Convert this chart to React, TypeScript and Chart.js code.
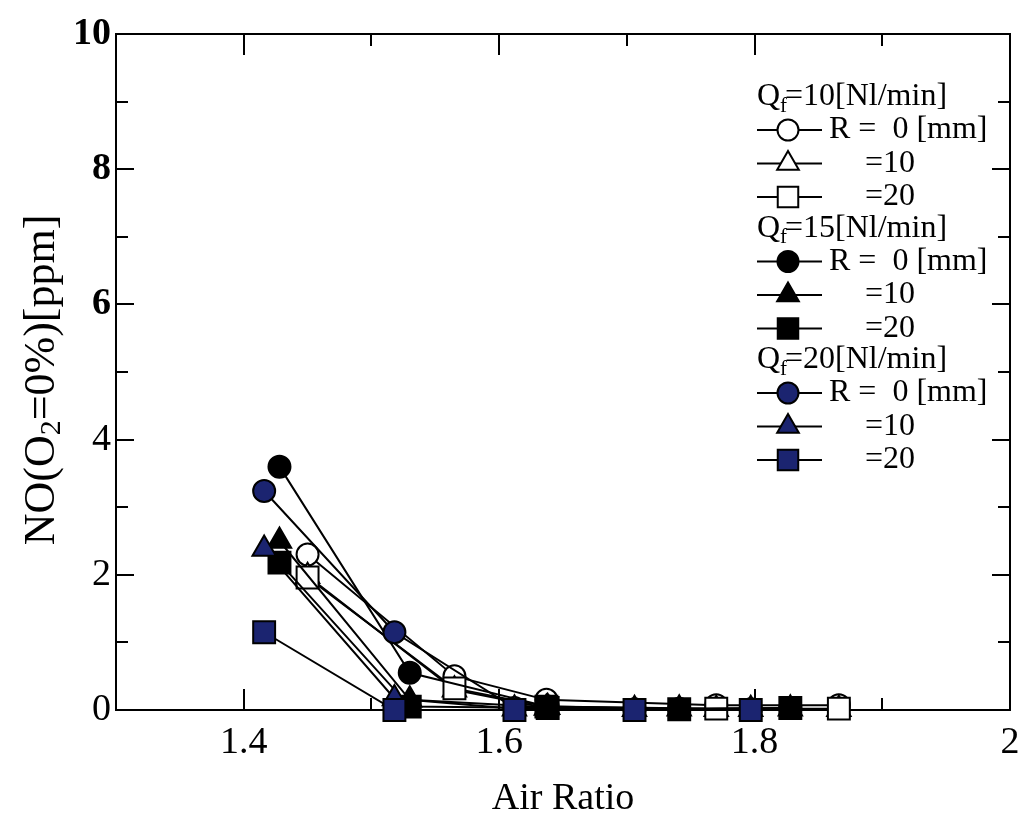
import React, { useEffect, useRef } from "react";
import { Chart, registerables } from "chart.js";

Chart.register(...registerables);

// ---- data ----
const xTickValues = [1.4, 1.6, 1.8, 2.0];
const yTickValues = [0, 2, 4, 6, 8, 10];

const q10X = [1.45, 1.565, 1.637, 1.77, 1.866];
const q10R0Y = [2.3, 0.5, 0.15, 0.07, 0.07];
const q10R10Y = [1.98, 0.3, 0.03, 0.01, 0.01];
const q10R20Y = [1.96, 0.32, 0.05, 0.02, 0.02];

const q15X = [1.428, 1.53, 1.638, 1.741, 1.828];
const q15R0Y = [3.6, 0.55, 0.05, 0.02, 0.03];
const q15R10Y = [2.5, 0.15, 0.04, 0.02, 0.02];
const q15R20Y = [2.18, 0.05, 0.03, 0.01, 0.03];

const q20X = [1.416, 1.518, 1.612, 1.706, 1.797];
const q20R0Y = [3.24, 1.15, 0.03, 0.01, 0.01];
const q20R10Y = [2.38, 0.17, 0.02, 0.01, 0.01];
const q20R20Y = [1.15, 0.0, 0.0, 0.0, 0.0];

const flowRates = ["10", "15", "20"];
const rowLabels = ["R =  0 [mm]", "=10", "=20"];

const NAVY = "#1b2470";
const FONT = "'Liberation Serif', 'Times New Roman', serif";

const groupFills = ["#ffffff", "#000000", NAVY];
const shapes = ["circle", "triangle", "rect"];
const radiusFor = (s: string) => (s === "circle" ? 11 : s === "triangle" ? 13.5 : 15.5);

const seriesX = [q10X, q15X, q20X];
const seriesY = [
  [q10R0Y, q10R10Y, q10R20Y],
  [q15R0Y, q15R10Y, q15R20Y],
  [q20R0Y, q20R10Y, q20R20Y],
];

function drawMarker(ctx: CanvasRenderingContext2D, shape: string, fill: string, x: number, y: number, r: number) {
  ctx.save();
  ctx.beginPath();
  if (shape === "circle") {
    ctx.arc(x, y, r, 0, Math.PI * 2);
  } else if (shape === "triangle") {
    const h = r * 1.5;
    const half = (r * Math.sqrt(3)) / 2;
    ctx.moveTo(x, y - r);
    ctx.lineTo(x + half, y - r + h);
    ctx.lineTo(x - half, y - r + h);
    ctx.closePath();
  } else {
    const s = r * Math.SQRT1_2;
    ctx.rect(x - s, y - s, 2 * s, 2 * s);
  }
  ctx.fillStyle = fill;
  ctx.fill();
  ctx.lineWidth = 2;
  ctx.strokeStyle = "#000";
  ctx.stroke();
  ctx.restore();
}

const framePlugin = {
  id: "frameTicks",
  beforeDatasetsDraw(chart: any) {
    const { ctx, chartArea } = chart;
    const { left, right, top, bottom } = chartArea;
    const xs = chart.scales.x;
    const ys = chart.scales.y;
    ctx.save();
    ctx.strokeStyle = "#000";
    ctx.lineWidth = 2;
    ctx.strokeRect(left, top, right - left, bottom - top);
    ctx.beginPath();
    // x ticks (major every 0.2, minor every 0.1)
    for (let i = 13; i <= 20; i++) {
      const v = i / 10;
      const px = Math.round(xs.getPixelForValue(v));
      const major = i % 2 === 0;
      const len = major ? 21 : 12;
      ctx.moveTo(px, bottom);
      ctx.lineTo(px, bottom - len);
      ctx.moveTo(px, top);
      ctx.lineTo(px, top + len);
    }
    // y ticks (major every 2, minor every 1)
    for (let v = 0; v <= 10; v++) {
      const py = Math.round(ys.getPixelForValue(v));
      const major = v % 2 === 0;
      const len = major ? 18 : 12;
      ctx.moveTo(left, py);
      ctx.lineTo(left + len, py);
      ctx.moveTo(right, py);
      ctx.lineTo(right - len, py);
    }
    ctx.stroke();
    ctx.restore();
  },
  afterDraw(chart: any) {
    const { ctx } = chart;
    ctx.save();
    ctx.fillStyle = "#000";
    ctx.textBaseline = "middle";

    // y-axis title with subscript
    ctx.save();
    ctx.translate(42, 380);
    ctx.rotate(-Math.PI / 2);
    const big = `44px ${FONT}`;
    const small = `30px ${FONT}`;
    const parts: [string, string, number][] = [
      ["NO(O", big, 0],
      ["2", small, 10],
      ["=0%)[ppm]", big, 0],
    ];
    let total = 0;
    for (const [t, f] of parts) {
      ctx.font = f;
      total += ctx.measureText(t).width;
    }
    let cx = -total / 2;
    ctx.textAlign = "left";
    for (const [t, f, dy] of parts) {
      ctx.font = f;
      ctx.fillText(t, cx, dy);
      cx += ctx.measureText(t).width;
    }
    ctx.restore();

    // legend
    const lx0 = 757;
    const lx1 = 822;
    const mx = 788;
    ctx.textAlign = "left";
    for (let g = 0; g < 3; g++) {
      const hy = 97 + g * 131.5;
      ctx.font = `32px ${FONT}`;
      ctx.fillText("Q", lx0, hy);
      const qw = ctx.measureText("Q").width;
      ctx.font = `21px ${FONT}`;
      ctx.fillText("f", lx0 + qw, hy + 9);
      const fw = ctx.measureText("f").width;
      ctx.font = `32px ${FONT}`;
      ctx.fillText(`=${flowRates[g]}[Nl/min]`, lx0 + qw + fw * 0.7, hy);
      for (let r = 0; r < 3; r++) {
        const ry = hy + 33 + r * 33.5;
        ctx.save();
        ctx.beginPath();
        ctx.moveTo(lx0, ry);
        ctx.lineTo(lx1, ry);
        ctx.lineWidth = 2;
        ctx.strokeStyle = "#000";
        ctx.stroke();
        ctx.restore();
        drawMarker(ctx, shapes[r], groupFills[g], mx, ry, r === 0 ? 10.5 : r === 1 ? 12.5 : 14.5);
        ctx.font = `32px ${FONT}`;
        ctx.fillText(rowLabels[r], r === 0 ? 829 : 865, ry);
      }
    }
    ctx.restore();
  },
};

export default function App() {
  const ref = useRef<HTMLCanvasElement | null>(null);

  useEffect(() => {
    if (!ref.current) return;
    const datasets: any[] = [];
    let idx = 0;
    for (let g = 0; g < 3; g++) {
      for (let r = 0; r < 3; r++) {
        const xs = seriesX[g];
        const ys = seriesY[g][r];
        datasets.push({
          label: `Qf=${flowRates[g]} ${rowLabels[r]}`,
          data: xs.map((x, i) => ({ x, y: ys[i] })),
          borderColor: "#000",
          borderWidth: 2,
          pointStyle: shapes[r],
          pointRadius: radiusFor(shapes[r]),
          pointBackgroundColor: groupFills[g],
          pointBorderColor: "#000",
          pointBorderWidth: 2,
          tension: 0,
          clip: false,
          order: 20 - idx,
        });
        idx++;
      }
    }

    const chart = new Chart(ref.current, {
      type: "line",
      data: { datasets },
      plugins: [framePlugin],
      options: {
        responsive: false,
        animation: false,
        devicePixelRatio: 1,
        layout: { autoPadding: false, padding: { left: 0, top: 34, right: 12, bottom: 0 } },
        plugins: { legend: { display: false }, tooltip: { enabled: false } },
        scales: {
          x: {
            type: "linear",
            min: 1.3,
            max: 2.0,
            afterBuildTicks: (s: any) => {
              s.ticks = xTickValues.map((v) => ({ value: v }));
            },
            afterFit: (s: any) => {
              s.height = 108;
              s.paddingLeft = 0;
              s.paddingRight = 0;
            },
            grid: { display: false, drawTicks: false },
            border: { display: false },
            ticks: {
              color: "#000",
              padding: 10,
              maxRotation: 0,
              autoSkip: false,
              font: { family: FONT, size: 38, lineHeight: 1.2 },
              callback: (v: any) => String(Number(v)),
            },
            title: {
              display: true,
              text: "Air Ratio",
              color: "#000",
              font: { family: FONT, size: 38, lineHeight: 1 },
              padding: { top: 0, bottom: 0 },
            },
          },
          y: {
            type: "linear",
            min: 0,
            max: 10,
            afterBuildTicks: (s: any) => {
              s.ticks = yTickValues.map((v) => ({ value: v }));
            },
            afterFit: (s: any) => {
              s.width = 116;
              s.paddingTop = 0;
              s.paddingBottom = 0;
            },
            grid: { display: false, drawTicks: false },
            border: { display: false },
            ticks: {
              color: "#000",
              padding: 5,
              font: (c: any) => ({
                family: FONT,
                size: 38,
                weight: c.tick && c.tick.value >= 6 ? "bold" : "normal",
              }),
              callback: (v: any) => String(Number(v)),
            },
          },
        },
      },
    });
    return () => chart.destroy();
  }, []);

  return (
    <div style={{ position: "absolute", left: 0, top: 0, width: 1022, height: 818, background: "#fff" }}>
      <canvas ref={ref} width={1022} height={818} />
    </div>
  );
}
